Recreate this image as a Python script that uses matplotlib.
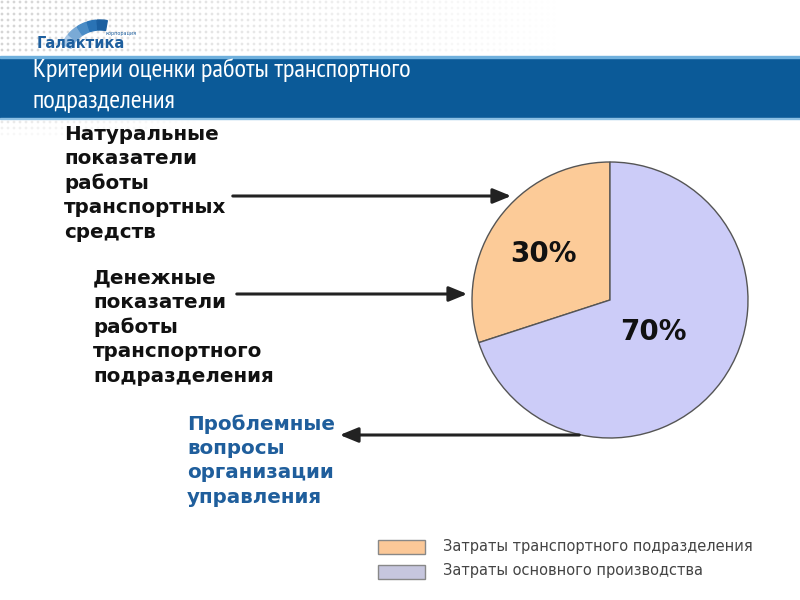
import matplotlib
matplotlib.use("Agg")
import matplotlib.pyplot as plt
import numpy as np
from matplotlib.patches import Rectangle, Wedge, FancyArrowPatch

# ---- data ----
shares = [30, 70]
share_labels = ["Затраты транспортного подразделения", "Затраты основного производства"]
pie_colors = ["#FCCB98", "#CCCCF8"]
legend_colors = ["#FBC898", "#C6C6DE"]
title_lines = ["Критерии оценки работы транспортного", "подразделения"]
block1 = ["Натуральные", "показатели", "работы", "транспортных", "средств"]
block2 = ["Денежные", "показатели", "работы", "транспортного", "подразделения"]
block3 = ["Проблемные", "вопросы", "организации", "управления"]

W, H = 800, 600
fig = plt.figure(figsize=(8, 6), dpi=100)
ax = fig.add_axes([0, 0, 1, 1])
ax.set_xlim(0, W)
ax.set_ylim(0, H)
ax.set_aspect("equal")
ax.axis("off")

def Y(y):
    return H - y

# dotted header background
xs, ys = np.meshgrid(np.arange(2, 560, 6), np.arange(2, 56, 6))
al = np.clip(1 - xs / 560.0, 0, 1) * 0.9
ax.scatter(xs.ravel(), Y(ys).ravel(), s=4, c=[(0.82, 0.82, 0.82, a) for a in al.ravel()],
           linewidths=0, zorder=0)
xs2, ys2 = np.meshgrid(np.arange(2, 200, 6), np.arange(122, 140, 6))
al2 = np.clip(1 - xs2 / 200.0, 0, 1) * 0.6 * np.clip(1 - (ys2 - 118) / 22.0, 0, 1)
ax.scatter(xs2.ravel(), Y(ys2).ravel(), s=4, c=[(0.82, 0.82, 0.82, a) for a in al2.ravel()],
           linewidths=0, zorder=0)

# logo
segs = [(140, 155), (124, 139), (109, 123), (95, 108), (80, 94)]
shades = ["#A9C8E6", "#7AAAD6", "#4A8CC6", "#2A73B5", "#1B5FA0"]
for (a1, a2), shade in zip(segs, shades):
    ax.add_patch(Wedge((100, Y(62)), 42, a1, a2, width=10, color=shade, zorder=2))
ax.text(37, Y(43), "Галактика", fontsize=10.5, fontweight="bold", color="#1E5F9E",
        ha="left", va="center", family="DejaVu Sans", zorder=3)
ax.text(106, Y(34), "корпорация", fontsize=3.5, color="#1E5F9E", ha="left", va="center", zorder=3)

# banner
ax.add_patch(Rectangle((0, Y(118)), W, 61, color="#0B5A98", zorder=1))
ax.add_patch(Rectangle((0, Y(58)), W, 2, color="#6FB0DD", zorder=1))
ax.add_patch(Rectangle((0, Y(119)), W, 1.5, color="#8CC0E4", zorder=1))
for i, line in enumerate(title_lines):
    ax.text(33, Y(77 + i * 31), line, fontsize=19, color="white", ha="left", va="baseline",
            family=["PT Sans Narrow", "DejaVu Sans"], zorder=3)

# pie
cx, cy, r = 610, Y(300), 138
wedges, texts, autotexts = ax.pie(
    shares, colors=pie_colors, startangle=90, counterclock=True, center=(cx, cy), radius=r,
    autopct="%d%%", pctdistance=0.6, frame=True,
    wedgeprops=dict(edgecolor="#555555", linewidth=1.0),
    textprops=dict(fontsize=20, fontweight="bold", color="#111111"))
ax.set_xlim(0, W)
ax.set_ylim(0, H)
ax.axis("off")
ang = np.deg2rad(90 + 360 * shares[0] / 100 + 360 * shares[1] / 200)
autotexts[1].set_position((cx + 0.39 * r * np.cos(ang), cy + 0.39 * r * np.sin(ang)))
ang0 = np.deg2rad(90 + 360 * shares[0] / 200)
autotexts[0].set_position((cx + 0.6 * r * np.cos(ang0), cy + 0.6 * r * np.sin(ang0) - 3))

# text blocks
def block(lines, x, y0, color, fs):
    for i, t in enumerate(lines):
        ax.text(x, Y(y0 + i * 24.5), t, fontsize=fs, fontweight="bold", color=color,
                ha="left", va="center", family="DejaVu Sans", zorder=3)

block(block1, 64, 134, "#111111", 14.3)
block(block2, 93, 278, "#111111", 14.3)
block(block3, 187, 424, "#1F5E9C", 14.3)

# arrows
def arrow(x1, y1, x2, y2):
    ax.add_patch(FancyArrowPatch((x1, Y(y1)), (x2, Y(y2)),
                                 arrowstyle="-|>,head_length=11,head_width=4.5",
                                 mutation_scale=1, color="#222222", linewidth=2.2, zorder=4))

arrow(230, 196, 514, 196)
arrow(234, 294, 470, 294)
arrow(582, 435, 337, 435)

# legend
for i, (lab, col) in enumerate(zip(share_labels, legend_colors)):
    y = 547 + i * 25
    ax.add_patch(Rectangle((378, Y(y + 7)), 47, 14, facecolor=col, edgecolor="#888888",
                           linewidth=1, zorder=3))
    ax.text(443, Y(y - 1), lab, fontsize=10.5, color="#444444", ha="left", va="center",
            family="DejaVu Sans", zorder=3)

fig.savefig("out.png", dpi=100)
